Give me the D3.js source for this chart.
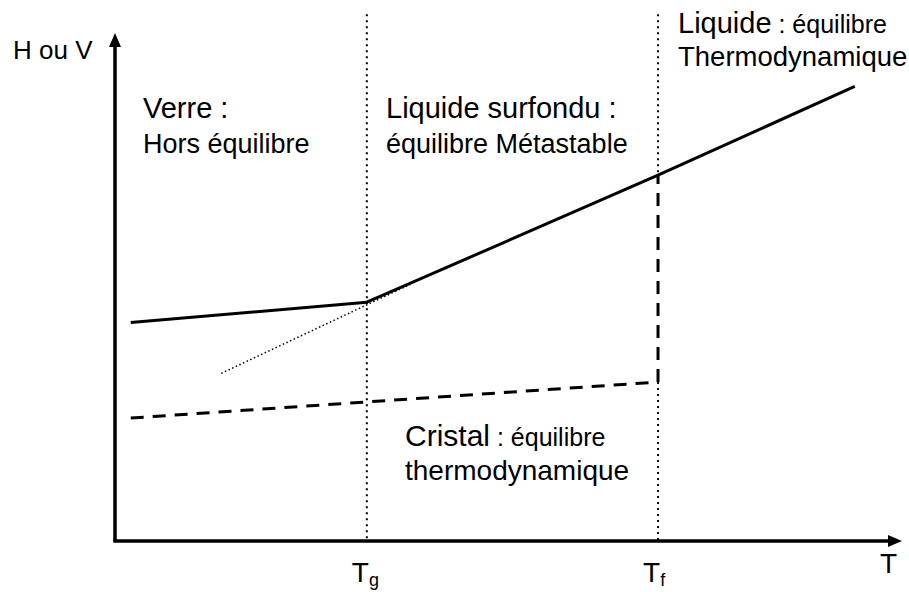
<!DOCTYPE html>
<html><head><meta charset="utf-8">
<script src="https://cdn.jsdelivr.net/npm/d3@7"></script>
<style>body{margin:0;background:#fff}svg{display:block}text{font-family:"Liberation Sans",Arial,sans-serif;fill:#000}</style>
</head><body><svg id="c" width="909" height="592"></svg>
<script>
// ---- data (abstract units: T along x, H/V along y) ----
const Tg = 32, Tf = 69;
const glassLine   = [[2, 43], [32, 47]];
const liquidLine  = [[32, 47], [69, 72], [94, 89.5]];
const extrapLine  = [[13.5, 33], [37.5, 50.5]];
const crystalLine = [[2, 24.2], [69, 31.3]];
const meltJump    = [[69, 31.3], [69, 72]];
const tickLabels  = [{v: Tg, main: "T", sub: "g"}, {v: Tf, main: "T", sub: "f"}];
const yTitle = "H ou V", xTitle = "T";

const svg = d3.select("#c");
const x = d3.scaleLinear().domain([0, 100]).range([115, 902]);
const y = d3.scaleLinear().domain([0, 100]).range([541, 33]);
const line = d3.line().x(d => x(d[0])).y(d => y(d[1]));
const topV = 103.7;

// dotted verticals at Tg, Tf (the Tf one is interrupted by the melting jump)
const vSegs = [[Tg, topV, 0], [Tf, topV, meltJump[1][1]], [Tf, meltJump[0][1], 0]];
svg.selectAll(".vl").data(vSegs).join("line")
  .attr("x1", d => x(d[0])).attr("x2", d => x(d[0]))
  .attr("y1", d => y(d[1])).attr("y2", d => y(d[2]))
  .attr("stroke", "#000").attr("stroke-width", 2).attr("stroke-dasharray", "2,4");

// axes
svg.append("line").attr("x1", x(0)).attr("y1", y(0)).attr("x2", x(0)).attr("y2", y(100) + 10)
  .attr("stroke", "#000").attr("stroke-width", 3.5);
svg.append("path").attr("d", `M${x(0)},${y(100)} L${x(0)-6},${y(100)+14} L${x(0)+6},${y(100)+14} Z`).attr("fill", "#000");
svg.append("line").attr("x1", x(0) - 1.75).attr("y1", y(0)).attr("x2", x(100) - 10).attr("y2", y(0))
  .attr("stroke", "#000").attr("stroke-width", 3.5);
svg.append("path").attr("d", `M${x(100)},${y(0)} L${x(100)-14},${y(0)-6} L${x(100)-14},${y(0)+6} Z`).attr("fill", "#000");

// curves
svg.append("path").attr("d", line(extrapLine)).attr("fill", "none")
  .attr("stroke", "#000").attr("stroke-width", 1.5).attr("stroke-dasharray", "1.5,2.5");
svg.append("path").attr("d", line(glassLine)).attr("fill", "none").attr("stroke", "#000").attr("stroke-width", 3);
svg.append("path").attr("d", line(liquidLine)).attr("fill", "none").attr("stroke", "#000").attr("stroke-width", 3);
svg.append("path").attr("d", line(crystalLine)).attr("fill", "none").attr("stroke", "#000").attr("stroke-width", 3).attr("stroke-dasharray", "13,9");
svg.append("path").attr("d", line(meltJump)).attr("fill", "none").attr("stroke", "#000").attr("stroke-width", 3).attr("stroke-dasharray", "13,9");

// axis labels
svg.append("text").attr("x", 13).attr("y", 59).attr("font-size", 26).text(yTitle);
svg.append("text").attr("x", x(100) - 22).attr("y", 573).attr("font-size", 28).text(xTitle);
tickLabels.forEach(t => {
  const tx = svg.append("text").attr("x", x(t.v) - 15).attr("y", 582).attr("font-size", 28);
  tx.append("tspan").text(t.main);
  tx.append("tspan").attr("font-size", 18).attr("dy", 4).text(t.sub);
});

// region annotations
function label(xp, yp, parts) {
  const t = svg.append("text").attr("x", xp).attr("y", yp);
  parts.forEach(p => t.append("tspan").attr("font-size", p[1]).text(p[0]));
}
label(143, 118, [["Verre :", 29]]);
label(143, 153, [["Hors équilibre", 27]]);
label(386, 118, [["Liquide surfondu :", 29]]);
label(386, 153, [["équilibre Métastable", 27]]);
label(678, 33, [["Liquide", 29], [" : équilibre", 25]]);
label(678, 66, [["Thermodynamique", 27.5]]);
label(405, 446, [["Cristal", 30], [" : équilibre", 25]]);
label(405, 480, [["thermodynamique", 28]]);
</script></body></html>
